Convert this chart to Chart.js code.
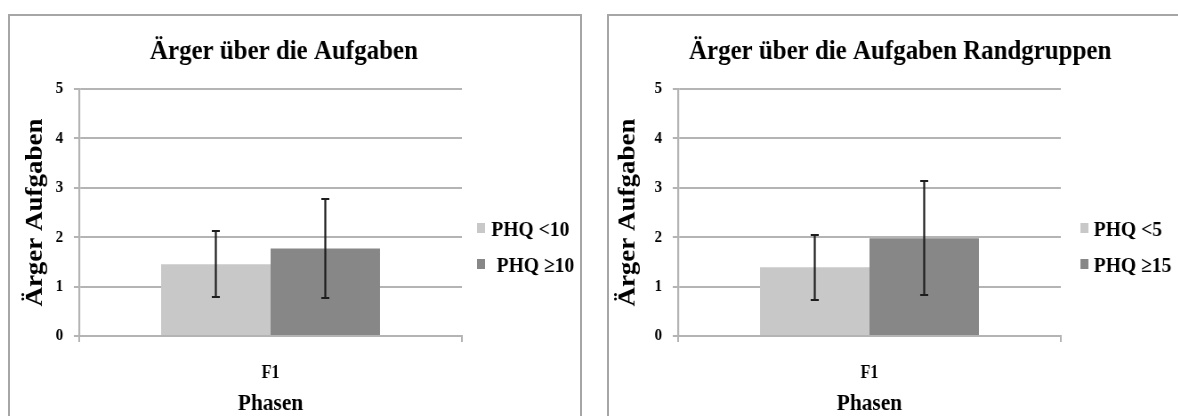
<!DOCTYPE html>
<html>
<head>
    <title>Ärger über die Aufgaben</title>
    <style type="text/css">
        body {
            margin: 0;
            width: 1178px;
            height: 416px;
            overflow: hidden;
            background: #fff;
            position: relative;
        }
        .panel {
            position: absolute;
            border: 2px solid #a6a6a6;
            background: #fff;
        }
        #panel-left { left: 8px; top: 14px; width: 570px; height: 420px; }
        #panel-right { left: 607px; top: 14px; width: 600px; height: 420px; }
        /* the original picture is a bit narrow: draw wider and squeeze it */
        canvas {
            position: absolute;
            top: 0;
            transform: scaleX(0.89);
            transform-origin: 0 0;
        }
        #chart-left { left: 0; }
        #chart-right { left: 590px; }
    </style>
</head>
<body>

    <div class="panel" id="panel-left"></div>
    <div class="panel" id="panel-right"></div>
    <canvas id="chart-left" width="678" height="430"></canvas>
    <canvas id="chart-right" width="737" height="430"></canvas>

    <script type="text/javascript" src="https://cdn.jsdelivr.net/npm/chart.js@4.4.0/dist/chart.umd.min.js"></script>
    <script>
        // data
        var categories = ["F1"];
        var yTicks = [0, 1, 2, 3, 4, 5];

        var leftTitle = "Ärger über die Aufgaben";
        var leftGroups = ["PHQ <10", "PHQ ≥10"];
        var leftMeans = [1.45, 1.77];
        var leftErrors = [0.67, 1.0];

        var rightTitle = "Ärger über die Aufgaben Randgruppen";
        var rightGroups = ["PHQ <5", "PHQ ≥15"];
        var rightMeans = [1.39, 1.98];
        var rightErrors = [0.66, 1.16];

        var groupColors = ["#c8c8c8", "#878787"];
        var gridColor = "#b4b4b4";
        var serif = "'Liberation Serif', 'Times New Roman', serif";

        // error bars on top of each bar
        var errorBarPlugin = {
            id: "errorBars",
            afterDatasetsDraw: function (chart) {
                var ctx = chart.ctx;
                var yScale = chart.scales.y;
                ctx.save();
                ctx.strokeStyle = "#1e1e1e";
                ctx.lineWidth = 2.2;
                chart.data.datasets.forEach(function (ds, i) {
                    var meta = chart.getDatasetMeta(i);
                    meta.data.forEach(function (bar, j) {
                        var m = ds.data[j];
                        var e = ds.errors[j];
                        var top = Math.round(yScale.getPixelForValue(m + e));
                        var bottom = Math.round(yScale.getPixelForValue(m - e));
                        var x = bar.x;
                        ctx.beginPath();
                        ctx.moveTo(x, top);
                        ctx.lineTo(x, bottom);
                        ctx.moveTo(x - 4.5, top);
                        ctx.lineTo(x + 4.5, top);
                        ctx.moveTo(x - 4.5, bottom);
                        ctx.lineTo(x + 4.5, bottom);
                        ctx.stroke();
                    });
                });
                ctx.restore();
            }
        };

        // legend drawn to the right of the plot
        var sideLegendPlugin = {
            id: "sideLegend",
            afterDraw: function (chart, args, o) {
                var ctx = chart.ctx;
                ctx.save();
                ctx.font = "bold 22px " + serif;
                ctx.textBaseline = "middle";
                chart.data.datasets.forEach(function (ds, i) {
                    var y = o.y0 + i * o.dy;
                    ctx.fillStyle = ds.backgroundColor;
                    ctx.fillRect(o.x, y - 5, 9, 10);
                    ctx.fillStyle = "#000";
                    ctx.fillText(ds.label, o.textX + (i === 1 ? o.shift2 : 0), y + 2);
                });
                ctx.restore();
            }
        };

        var makeChart = function (id, title, groups, means, errors, layout) {
            var datasets = [];
            for (var i = 0; i < groups.length; i++) {
                datasets.push({
                    label: groups[i],
                    data: [means[i]],
                    errors: [errors[i]],
                    backgroundColor: groupColors[i],
                    borderWidth: 0,
                    barPercentage: 1,
                    categoryPercentage: 0.572
                });
            }

            return new Chart(document.getElementById(id), {
                type: "bar",
                data: { labels: categories, datasets: datasets },
                plugins: [errorBarPlugin, sideLegendPlugin],
                options: {
                    responsive: false,
                    animation: false,
                    events: [],
                    // extra room on the right so the legend text is not cut off
                    layout: { padding: { left: 0, right: 40, top: 0, bottom: 0 } },
                    plugins: {
                        legend: { display: false },
                        tooltip: { enabled: false },
                        title: {
                            display: true,
                            text: title,
                            color: "#000",
                            font: { family: serif, size: 28, weight: "bold", lineHeight: 1.2 },
                            padding: { top: 35, bottom: 20.4 }
                        },
                        sideLegend: {
                            x: layout.legendX,
                            textX: layout.textX,
                            shift2: layout.shift2,
                            y0: 228,
                            dy: 36
                        }
                    },
                    scales: {
                        x: {
                            grid: { drawOnChartArea: false, color: gridColor, lineWidth: 2, tickLength: 6 },
                            border: { color: gridColor, width: 2 },
                            ticks: {
                                color: "#000",
                                padding: 21,
                                font: { family: serif, size: 18, weight: "bold" }
                            },
                            title: {
                                display: true,
                                text: "Phasen",
                                color: "#000",
                                font: { family: serif, size: 24, weight: "bold" },
                                padding: { top: 0, bottom: 12 }
                            },
                            afterFit: function (s) { s.height = 94; }
                        },
                        y: {
                            min: 0,
                            max: 5,
                            afterBuildTicks: function (s) {
                                s.ticks = yTicks.map(function (v) { return { value: v }; });
                            },
                            grid: { color: gridColor, lineWidth: 2, tickLength: 6 },
                            border: { color: gridColor, width: 2.2 },
                            ticks: {
                                color: "#000",
                                padding: 12,
                                font: { family: serif, size: 17, weight: "bold" }
                            },
                            title: {
                                display: true,
                                text: "Ärger Aufgaben",
                                color: "#000",
                                font: { family: serif, size: 27, weight: "bold" },
                                padding: { top: layout.yTitlePad, bottom: 0 }
                            },
                            afterFit: function (s) { s.width = layout.yAxisWidth; }
                        },
                        // empty axis that keeps room for the legend
                        gap: {
                            type: "linear",
                            position: "right",
                            display: true,
                            ticks: { display: false },
                            grid: { display: false },
                            border: { display: false },
                            afterFit: function (s) { s.width = layout.gapWidth; }
                        }
                    }
                }
            });
        };

        makeChart("chart-left", leftTitle, leftGroups, leftMeans, leftErrors,
            { yAxisWidth: 89, gapWidth: 119, yTitlePad: 24, legendX: 536, textX: 552, shift2: 6 });
        makeChart("chart-right", rightTitle, rightGroups, rightMeans, rightErrors,
            { yAxisWidth: 99, gapWidth: 168, yTitlePad: 27, legendX: 551, textX: 566, shift2: 0 });
    </script>
</body>
</html>
